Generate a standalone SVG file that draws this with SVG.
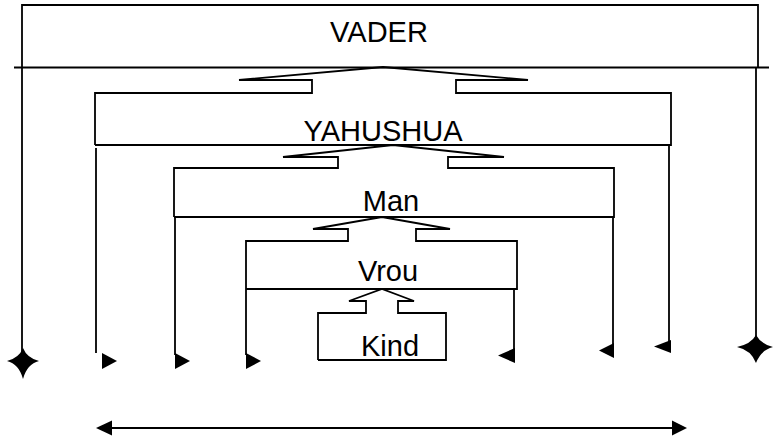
<svg xmlns="http://www.w3.org/2000/svg" width="773" height="439" viewBox="0 0 773 439">
<style>
.ln{fill:none;stroke:#000;stroke-width:1.8}
.lbl{font-family:"Liberation Sans",Arial,sans-serif;font-size:29px;fill:#000;text-anchor:middle}
.hd{fill:#000;stroke:none}
</style>
<rect width="773" height="439" fill="#fff"/>
<g id="vader">
<path class="ln" d="M22,353 V5 H758 V67"/>
<line class="ln" x1="14" y1="67.5" x2="769" y2="67.5"/>
<text class="lbl" x="379" y="42">VADER</text>
</g>
<g id="yahushua">
<path class="ln" d="M95,145 V93 H312 V80 H239 L383,67 L528,80 H456 V93 H671 V145 H95"/>
<text class="lbl" x="383" y="141">YAHUSHUA</text>
</g>
<g id="man">
<path class="ln" d="M174,217 V168 H338 V157 H283 L393,145 L504,157 H448 V168 H614 V217 H174"/>
<text class="lbl" x="391" y="211">Man</text>
</g>
<g id="vrou">
<path class="ln" d="M246,289 V241 H348 V229 H313 L382,217 L450,229 H416 V241 H517 V289 H246"/>
<text class="lbl" x="388" y="281">Vrou</text>
</g>
<g id="kind">
<path class="ln" d="M318,360 V313 H366 V301 H349 L382,289 L414,301 H398 V313 H446 V360 H318"/>
<text class="lbl" x="390" y="356">Kind</text>
</g>
<g id="connectors">
<path class="ln" d="M756,67 V350"/>
<path class="ln" d="M96,148 V353"/>
<path class="ln" d="M175,217 V355"/>
<path class="ln" d="M246,289 V355"/>
<path class="ln" d="M514,289 V358"/>
<path class="ln" d="M613,217 V352"/>
<path class="ln" d="M669,145 V348"/>
<path class="hd" d="M7,361 Q19,358 23,348 Q27,358 39,361 Q27,364 23,379 Q19,364 7,361Z"/>
<path class="hd" d="M737,347 Q751,344 756,335 Q761,344 773,347 Q761,350 756,363 Q751,350 737,347Z"/>
<path class="hd" d="M102,353 L117,361 L102,369Z"/>
<path class="hd" d="M175,353 L190,361 L175,369Z"/>
<path class="hd" d="M246,353 L261,361 L246,369Z"/>
<path class="hd" d="M515,348 L498,355.5 L515,363Z"/>
<path class="hd" d="M614,343 L599,350.5 L614,358Z"/>
<path class="hd" d="M671,340 L654,346.5 L671,353Z"/>
<line class="ln" x1="110" y1="428" x2="674" y2="428"/>
<path class="hd" d="M96,428 L112,420.5 L112,435.5Z"/>
<path class="hd" d="M687,428 L672,420.5 L672,435.5Z"/>
</g>
</svg>
